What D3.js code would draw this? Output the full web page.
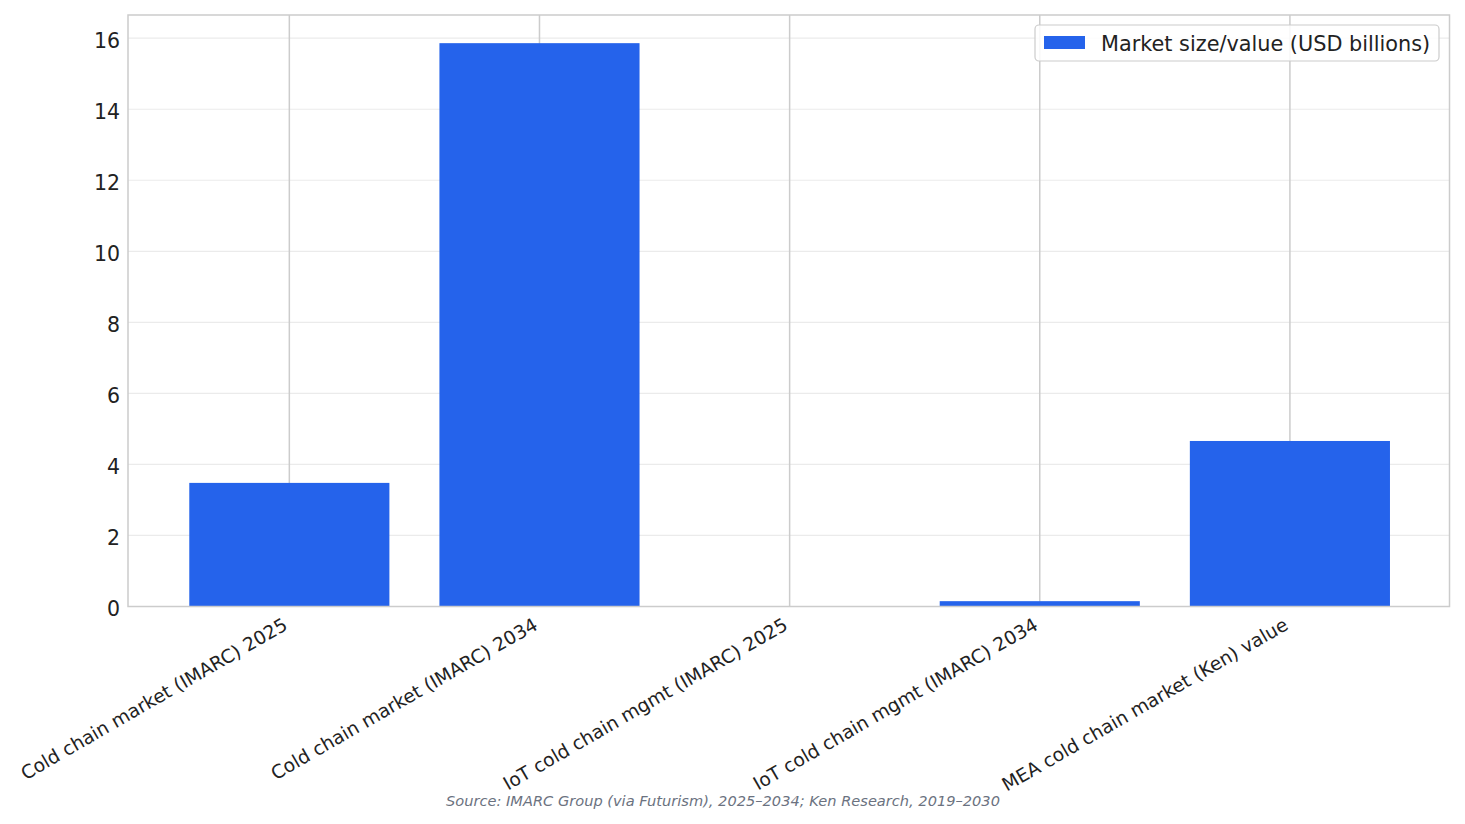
<!DOCTYPE html>
<html><head><meta charset="utf-8">
<script src="https://cdn.jsdelivr.net/npm/d3@7"></script>
<style>body{margin:0;background:#fff}svg{display:block;font-family:"DejaVu Sans",sans-serif}</style>
</head><body>
<svg id="c" width="1465" height="824"></svg>
<script>
const categories = ["Cold chain market (IMARC) 2025","Cold chain market (IMARC) 2034","IoT cold chain mgmt (IMARC) 2025","IoT cold chain mgmt (IMARC) 2034","MEA cold chain market (Ken) value"];
const values = [3.48, 15.86, 0.005, 0.15, 4.66];
const yTicks = [0,2,4,6,8,10,12,14,16];
const seriesName = "Market size/value (USD billions)";
const sourceText = "Source: IMARC Group (via Futurism), 2025–2034; Ken Research, 2019–2030";

const svg = d3.select("#c");
const L=128, R=1449.5, T=15, B=606.5;
const x = d3.scaleLinear().domain([-0.645, categories.length-1+0.638]).range([L,R]);
const y = d3.scaleLinear().domain([0, d3.max(values)*1.05]).range([B,T]);
const bw = x(0.8)-x(0);

// y grid
svg.append("g").selectAll("line").data(yTicks).join("line")
  .attr("x1",L).attr("x2",R).attr("y1",d=>y(d)).attr("y2",d=>y(d))
  .attr("stroke","#ebebeb").attr("stroke-width",1.2);
// x grid
svg.append("g").selectAll("line").data(categories).join("line")
  .attr("x1",(d,i)=>x(i)).attr("x2",(d,i)=>x(i)).attr("y1",T).attr("y2",B)
  .attr("stroke","#cccccc").attr("stroke-width",1.5);
// bars
svg.append("g").selectAll("rect").data(values).join("rect")
  .attr("x",(d,i)=>x(i)-bw/2).attr("width",bw)
  .attr("y",d=>y(d)).attr("height",d=>B-y(d)).attr("fill","#2563eb");
// frame
svg.append("rect").attr("x",L).attr("y",T).attr("width",R-L).attr("height",B-T)
  .attr("fill","none").attr("stroke","#cccccc").attr("stroke-width",1.5);

// y axis
const ya = svg.append("g").attr("transform",`translate(${L},0)`)
  .call(d3.axisLeft(y).tickValues(yTicks).tickSize(0).tickPadding(8));
ya.select(".domain").remove();
ya.selectAll("text").attr("font-size",20.5).attr("fill","#222").attr("font-family","DejaVu Sans")
  .attr("dy","0.45em");

// x axis
const xa = svg.append("g").attr("transform",`translate(0,${B})`)
  .call(d3.axisBottom(x).tickValues(d3.range(categories.length)).tickFormat(i=>categories[i]).tickSize(0).tickPadding(0));
xa.select(".domain").remove();
xa.selectAll("text").attr("font-size",18.7).attr("fill","#222").attr("font-family","DejaVu Sans")
  .attr("text-anchor","end").attr("dy",0)
  .attr("transform","translate(-1,22) rotate(-30)");

// legend
const lg = svg.append("g");
lg.append("rect").attr("x",1035).attr("y",25).attr("width",404).attr("height",36).attr("rx",4)
  .attr("fill","#fff").attr("fill-opacity",0.85).attr("stroke","#cccccc").attr("stroke-width",1.2);
lg.append("rect").attr("x",1044).attr("y",36).attr("width",41).attr("height",13).attr("fill","#2563eb");
lg.append("text").attr("x",1101).attr("y",50.5).attr("font-size",20.8).attr("fill","#222").text(seriesName);

// source
svg.append("text").attr("x",723).attr("y",806).attr("text-anchor","middle")
  .attr("font-size",14.6).attr("font-style","italic").attr("fill","#6b7280").text(sourceText);
</script>
</body></html>
